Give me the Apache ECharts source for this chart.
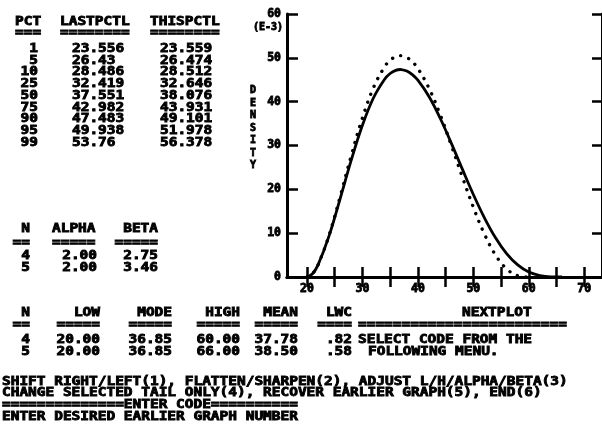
<!DOCTYPE html>
<html>
<head>
<meta charset="utf-8">
<script src="https://cdn.jsdelivr.net/npm/echarts@6/dist/echarts.min.js"></script>
<style>html,body{margin:0;padding:0;background:#fff}#c{width:602px;height:432px}</style>
</head>
<body>
<div id="c"></div>
<script>
// ---- data ----
const pctLevels = ['1', '5', '10', '25', '50', '75', '90', '95', '99'];
const lastPctl = ['23.556', '26.43', '28.486', '32.419', '37.551', '42.982', '47.483', '49.938', '53.76'];
const thisPctl = ['23.559', '26.474', '28.512', '32.646', '38.076', '43.931', '49.101', '51.978', '56.378'];

const runN = ['4', '5'];
const alphaVals = ['2.00', '2.00'];
const betaVals = ['2.75', '3.46'];
const lowVals = ['20.00', '20.00'];
const modeVals = ['36.85', '36.85'];
const highVals = ['60.00', '66.00'];
const meanVals = ['37.78', '38.50'];
const lwcVals = ['.82', '.58'];
const nextPlot = ['SELECT CODE FROM THE', 'FOLLOWING MENU.'];

const menuLines = [
  'SHIFT RIGHT/LEFT(1), FLATTEN/SHARPEN(2), ADJUST L/H/ALPHA/BETA(3)',
  'CHANGE SELECTED TAIL ONLY(4), RECOVER EARLIER GRAPH(5), END(6)',
  '==============ENTER CODE==========',
  'ENTER DESIRED EARLIER GRAPH NUMBER'
];

// curve for previous graph (dotted) : x and density (E-3)
const lastX = [20, 21, 22, 24, 26, 28, 30, 32, 34, 35, 36, 36.84, 37, 38, 39, 40, 42, 44, 46, 48, 50, 52, 54, 56, 58, 60];
const lastY = [0, 0.75, 2.78, 9.58, 18.43, 27.73, 36.28, 43.22, 47.97, 49.44, 50.28, 50.50, 50.49, 50.09, 49.11, 47.58, 43.09, 37.10, 30.15, 22.89, 15.91, 9.80, 5.02, 1.85, 0.31, 0];
// curve for current graph (solid)
const thisX = [20, 21, 22, 24, 26, 28, 30, 32, 34, 35, 36, 36.85, 37, 38, 39, 40, 42, 44, 46, 48, 50, 52, 54, 56, 58, 60, 62, 64, 66];
const thisY = [0, 0.75, 2.77, 9.44, 17.94, 26.71, 34.61, 40.89, 45.13, 46.42, 47.15, 47.34, 47.33, 47.00, 46.17, 44.90, 41.19, 36.27, 30.61, 24.66, 18.83, 13.50, 8.94, 5.33, 2.75, 1.12, 0.31, 0.03, 0];

const xTicks = [20, 25, 30, 35, 40, 45, 50, 55, 60, 65, 70];
const xLabels = [20, 30, 40, 50, 60, 70];
const yLabel = 'DENSITY';
const yUnit = '(E-3)';

// ---- drawing ----
const FF = '"DejaVu Sans Mono", "Liberation Mono", monospace';
const FS = 11.5, SX = 1.257;
function t(s, x, y, align, opts) {
  opts = opts || {};
  return {
    type: 'text', x: x, y: y, scaleX: opts.sx || SX, silent: true,
    style: {
      text: s, fill: '#000', stroke: '#000', lineWidth: 0.8,
      font: 'bold ' + (opts.fs || FS) + 'px ' + FF,
      align: align || 'left', verticalAlign: 'middle',
      lineHeight: opts.lh
    }
  };
}
const eq = n => '='.repeat(n);
const g = [];
// block 1 : percentiles
const b1h = 22, b1u = 33, b1r = 49, b1s = 11.75;
g.push(t('PCT', 15, b1h), t(eq(3), 15, b1u));
g.push(t('LASTPCTL', 60, b1h), t(eq(8), 60, b1u));
g.push(t('THISPCTL', 150, b1h), t(eq(8), 150, b1u));
pctLevels.forEach((p, i) => {
  const y = b1r + i * b1s;
  g.push(t(p, 38, y, 'right'), t(lastPctl[i], 72, y), t(thisPctl[i], 160, y));
});
// block 2 : alpha / beta
const b2 = [229, 243, 256, 268];
g.push(t('N', 30, b2[0], 'right'), t(eq(2), 30, b2[1], 'right'));
g.push(t('ALPHA', 52, b2[0]), t(eq(5), 52, b2[1]));
g.push(t('BETA', 158, b2[0], 'right'), t(eq(5), 158, b2[1], 'right'));
runN.forEach((n, i) => {
  const y = b2[2 + i];
  g.push(t(n, 30, y, 'right'), t(alphaVals[i], 97, y, 'right'), t(betaVals[i], 158, y, 'right'));
});
// block 3 : low/mode/high
const b3 = [313, 325, 340, 352];
const cols3 = [
  ['N', 2, 30, runN], ['LOW', 5, 100, lowVals], ['MODE', 5, 172, modeVals],
  ['HIGH', 5, 240, highVals], ['MEAN', 5, 298, meanVals], ['LWC', 4, 352, lwcVals]
];
cols3.forEach(c => {
  g.push(t(c[0], c[2], b3[0], 'right'), t(eq(c[1]), c[2], b3[1], 'right'));
  c[3].forEach((v, i) => g.push(t(v, c[2], b3[2 + i], 'right')));
});
g.push(t('NEXTPLOT', 462, b3[0]), t(eq(24), 358, b3[1]));
g.push(t(nextPlot[0], 358, b3[2]), t(nextPlot[1], 368, b3[3]));
// menu
const mY = [382, 393.5, 405, 417];
menuLines.forEach((s, i) => g.push(t(s, 2, mY[i])));
// axis annotations
g.push(t(yUnit, 283, 27, 'right', {fs: 10, sx: 1}));
g.push(t(yLabel.split('').join('\n'), 253, 128, 'center', {fs: 10, sx: 1, lh: 12.5}));

const axisLineStyle = {color: '#000', width: 3};
const tickStyle = {color: '#000', width: 2.5};
const lblStyle = {color: '#000', fontWeight: 'bold', fontFamily: FF, fontSize: 11.5, textBorderColor: '#000', textBorderWidth: 0.8};

const option = {
  animation: false,
  backgroundColor: '#fff',
  grid: {left: 287, top: 14, width: 316, height: 263},
  xAxis: [
    {type: 'value', position: 'bottom', min: 16.4, max: 73.2,
     axisLine: {lineStyle: axisLineStyle},
     axisTick: {inside: true, length: 10, lineStyle: tickStyle, customValues: xTicks},
     axisLabel: {customValues: xLabels, margin: 6, ...lblStyle},
     splitLine: {show: false}},
    {type: 'value', position: 'top', min: 16.4, max: 73.2,
     axisLine: {lineStyle: axisLineStyle},
     axisTick: {inside: true, length: 10, lineStyle: tickStyle, customValues: xTicks},
     axisLabel: {show: false}, splitLine: {show: false}}
  ],
  yAxis: [
    {type: 'value', position: 'left', min: 0, max: 60, interval: 10,
     axisLine: {show: true, lineStyle: axisLineStyle},
     axisTick: {show: true, inside: true, length: 11, lineStyle: tickStyle},
     axisLabel: {margin: 6, ...lblStyle},
     splitLine: {show: false}},
    {type: 'value', position: 'right', min: 0, max: 60, interval: 10,
     axisLine: {show: true, lineStyle: axisLineStyle},
     axisTick: {show: true, inside: true, length: 10, lineStyle: tickStyle},
     axisLabel: {show: false}, splitLine: {show: false}}
  ],
  series: [
    {name: 'LAST', type: 'line', data: lastX.map((x, i) => [x, lastY[i]]),
     smooth: 0.4, symbol: 'none', silent: true,
     lineStyle: {color: '#000', width: 3.4, type: [0.01, 8.5], cap: 'round'}},
    {name: 'THIS', type: 'line', data: thisX.map((x, i) => [x, thisY[i]]),
     smooth: 0.4, symbol: 'none', silent: true,
     lineStyle: {color: '#000', width: 2.8}}
  ],
  graphic: g
};
const chart = echarts.init(document.getElementById('c'), null, {renderer: 'canvas'});
chart.setOption(option);
</script>
</body>
</html>
